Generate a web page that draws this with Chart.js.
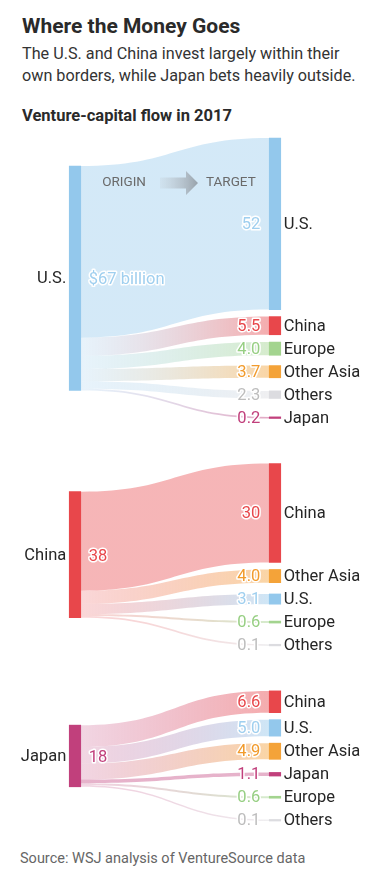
<!DOCTYPE html>
<html>
<head>
<meta charset="utf-8">
<script src="https://cdn.jsdelivr.net/npm/chart.js@4.4.0/dist/chart.umd.min.js"></script>
<style>
  body { margin: 0; background: #fff; font-family: Roboto, sans-serif; }
  #page { position: relative; width: 386px; height: 874px; overflow: hidden; }
  .txt { position: absolute; left: 22px; white-space: nowrap; color: #2a2a2a; }
  #title { top: 14px; font-size: 21px; line-height: 24px; font-weight: 700; }
  #sub { top: 43px; font-size: 16.2px; line-height: 22px; color: #333; }
  #head { top: 106px; font-size: 16.5px; line-height: 20px; font-weight: 700; }
  #src { top: 850px; left: 20px; font-size: 14.5px; line-height: 18px; color: #666; }
  #chart-container { position: absolute; left: 0; top: 130px; width: 386px; height: 720px; }
</style>
</head>
<body>
<div id="page">
  <div class="txt" id="title">Where the Money Goes</div>
  <div class="txt" id="sub">The U.S. and China invest largely within their<br>own borders, while Japan bets heavily outside.</div>
  <div class="txt" id="head">Venture-capital flow in 2017</div>
  <div id="chart-container"><canvas id="sankey"></canvas></div>
  <div class="txt" id="src">Source: WSJ analysis of VentureSource data</div>
</div>
<script>
// Data (billions of dollars)
const origins = ['U.S.', 'China', 'Japan'];
const originTotals = [67, 38, 18];

const usTargets = ['U.S.', 'China', 'Europe', 'Other Asia', 'Others', 'Japan'];
const usValues = [52, 5.5, 4.0, 3.7, 2.3, 0.2];

const chinaTargets = ['China', 'Other Asia', 'U.S.', 'Europe', 'Others'];
const chinaValues = [30, 4.0, 3.1, 0.6, 0.1];

const japanTargets = ['China', 'U.S.', 'Other Asia', 'Japan', 'Europe', 'Others'];
const japanValues = [6.6, 5.0, 4.9, 1.1, 0.6, 0.1];

// Styles
const nodeColors = {
    'U.S.': '#93c8ec',
    'China': '#e8474b',
    'Europe': '#a3d48f',
    'Other Asia': '#f4a339',
    'Others': '#dcdce0',
    'Japan': '#c1407c'
};
const valueColors = {
    'U.S.': '#9fcfef',
    'China': '#e8474b',
    'Europe': '#97cf83',
    'Other Asia': '#f29b2c',
    'Others': '#bdbdbd',
    'Japan': '#c1407c'
};

// Layout, in pixels, turned into value units below
const PX = 3.3;            // pixels per billion
const CANVAS_H = 720;
const Y_MAX = CANVAS_H / PX;
const TOP = 8 / PX;
const NODE_GAP = 7 / PX;
const LABEL_STEP = 23 / PX;
const SECTION_GAP = 45 / PX;
const MIN_H = 1.6 / PX;
const BAR_W = 11.5;

function hexToRgba(hex, a) {
    const n = parseInt(hex.slice(1), 16);
    return `rgba(${(n >> 16) & 255}, ${(n >> 8) & 255}, ${n & 255}, ${a})`;
}

function fmt(v) {
    return v >= 10 ? String(Math.round(v)) : v.toFixed(1);
}

// Build nodes and links for each origin block
const sectionInputs = [
    { targets: usTargets, values: usValues },
    { targets: chinaTargets, values: chinaValues },
    { targets: japanTargets, values: japanValues }
];

const nodes = [];
const links = [];
const sources = [];
let cursor = TOP;

sectionInputs.forEach((sec, si) => {
    const targetNodes = [];
    let prev = null;
    sec.targets.forEach((name, i) => {
        const h = Math.max(sec.values[i], MIN_H);
        let y0 = cursor;
        if (prev) {
            y0 = Math.max(prev.y1 + NODE_GAP, (prev.y0 + prev.y1) / 2 + LABEL_STEP - h / 2);
        }
        prev = { name, value: sec.values[i], col: 1, y0, y1: y0 + h };
        targetNodes.push(prev);
    });

    const colTop = targetNodes[0].y0;
    const colBottom = targetNodes[targetNodes.length - 1].y1;
    const srcH = targetNodes.reduce((s, n) => s + (n.y1 - n.y0), 0);
    const srcY0 = (colTop + colBottom) / 2 - srcH / 2;
    const src = { name: origins[si], value: originTotals[si], col: 0, y0: srcY0, y1: srcY0 + srcH, first: si === 0 };
    sources.push(src);
    nodes.push(src);

    let sy = srcY0;
    targetNodes.forEach(t => {
        const h = t.y1 - t.y0;
        links.push({ from: src.name, to: t.name, sy0: sy, sy1: sy + h, ty0: t.y0, ty1: t.y1 });
        sy += h;
        nodes.push(t);
    });

    cursor = Math.max(colBottom, src.y1) + SECTION_GAP;
});

const sankeyPlugin = {
    id: 'sankeyFlows',
    beforeDatasetsDraw(chart) {
        const { ctx, scales: { x, y } } = chart;
        const xa = x.getPixelForValue(0) + BAR_W / 2;
        const xb = x.getPixelForValue(1) - BAR_W / 2;
        const xm = (xa + xb) / 2;
        ctx.save();
        links.forEach(l => {
            const s0 = y.getPixelForValue(l.sy0), s1 = y.getPixelForValue(l.sy1);
            const t0 = y.getPixelForValue(l.ty0), t1 = y.getPixelForValue(l.ty1);
            const g = ctx.createLinearGradient(xa, 0, xb, 0);
            if (l.from === l.to) {
                g.addColorStop(0, hexToRgba(nodeColors[l.from], 0.4));
                g.addColorStop(1, hexToRgba(nodeColors[l.to], 0.4));
            } else {
                g.addColorStop(0, hexToRgba(nodeColors[l.from], 0.22));
                g.addColorStop(1, hexToRgba(nodeColors[l.to], 0.45));
            }
            ctx.beginPath();
            ctx.moveTo(xa, s0);
            ctx.bezierCurveTo(xm, s0, xm, t0, xb, t0);
            ctx.lineTo(xb, t1);
            ctx.bezierCurveTo(xm, t1, xm, s1, xa, s1);
            ctx.closePath();
            ctx.fillStyle = g;
            ctx.fill();
        });
        ctx.restore();
    },
    afterDatasetsDraw(chart) {
        const { ctx, scales: { x, y } } = chart;
        const xs = x.getPixelForValue(0), xt = x.getPixelForValue(1);
        const xa = xs + BAR_W / 2, xb = xt - BAR_W / 2;
        const xm = (xa + xb) / 2;
        ctx.save();
        ctx.textBaseline = 'middle';
        ctx.lineJoin = 'round';

        function halo(text, px, py, color) {
            ctx.strokeStyle = '#fff';
            ctx.lineWidth = 3;
            ctx.strokeText(text, px, py);
            ctx.fillStyle = color;
            ctx.fillText(text, px, py);
        }

        nodes.forEach(n => {
            const cy = y.getPixelForValue((n.y0 + n.y1) / 2) + 1;
            ctx.font = '16.5px Roboto, sans-serif';
            if (n.col === 1) {
                ctx.textAlign = 'left';
                ctx.fillStyle = '#262626';
                ctx.fillText(n.name, xt + BAR_W / 2 + 3, cy);
                ctx.textAlign = 'right';
                halo(fmt(n.value), xb - 9, cy, valueColors[n.name]);
            } else {
                ctx.textAlign = 'right';
                ctx.fillStyle = '#262626';
                ctx.fillText(n.name, xs - BAR_W / 2 - 3, cy);
                ctx.textAlign = 'left';
                const label = n.first ? `$${n.value} billion` : String(n.value);
                halo(label, xa + 8, cy + 1, valueColors[n.name]);
            }
        });

        // ORIGIN -> TARGET key inside the first block
        const ky = y.getPixelForValue(sources[0].y0) + 17;
        ctx.font = '13.5px Roboto, sans-serif';
        ctx.fillStyle = '#6a6a6a';
        ctx.textAlign = 'right';
        ctx.fillText('ORIGIN', xm - 29, ky);
        ctx.textAlign = 'left';
        ctx.fillText('TARGET', xm + 31, ky);
        const ag = ctx.createLinearGradient(xm - 15, 0, xm + 23, 0);
        ag.addColorStop(0, 'rgba(190, 198, 205, 0.2)');
        ag.addColorStop(1, '#98a2ab');
        ctx.fillStyle = ag;
        ctx.beginPath();
        ctx.moveTo(xm - 15, ky - 5.5);
        ctx.lineTo(xm + 11, ky - 5.5);
        ctx.lineTo(xm + 11, ky - 12);
        ctx.lineTo(xm + 23, ky);
        ctx.lineTo(xm + 11, ky + 12);
        ctx.lineTo(xm + 11, ky + 5.5);
        ctx.lineTo(xm - 15, ky + 5.5);
        ctx.closePath();
        ctx.fill();
        ctx.restore();
    }
};

const ctx = document.getElementById('sankey').getContext('2d');
new Chart(ctx, {
    type: 'bar',
    data: {
        datasets: [{
            data: nodes.map(n => ({ x: n.col, y: [n.y0, n.y1] })),
            backgroundColor: nodes.map(n => nodeColors[n.name]),
            borderWidth: 0,
            barThickness: BAR_W,
            clip: false
        }]
    },
    options: {
        responsive: true,
        maintainAspectRatio: false,
        animation: false,
        events: [],
        layout: { padding: { left: 75, right: 111, top: 0, bottom: 0 } },
        scales: {
            x: { type: 'linear', min: 0, max: 1, offset: false, display: false },
            y: { type: 'linear', min: 0, max: Y_MAX, reverse: true, display: false }
        },
        plugins: {
            legend: { display: false },
            tooltip: { enabled: false }
        }
    },
    plugins: [sankeyPlugin]
});
</script>
</body>
</html>
